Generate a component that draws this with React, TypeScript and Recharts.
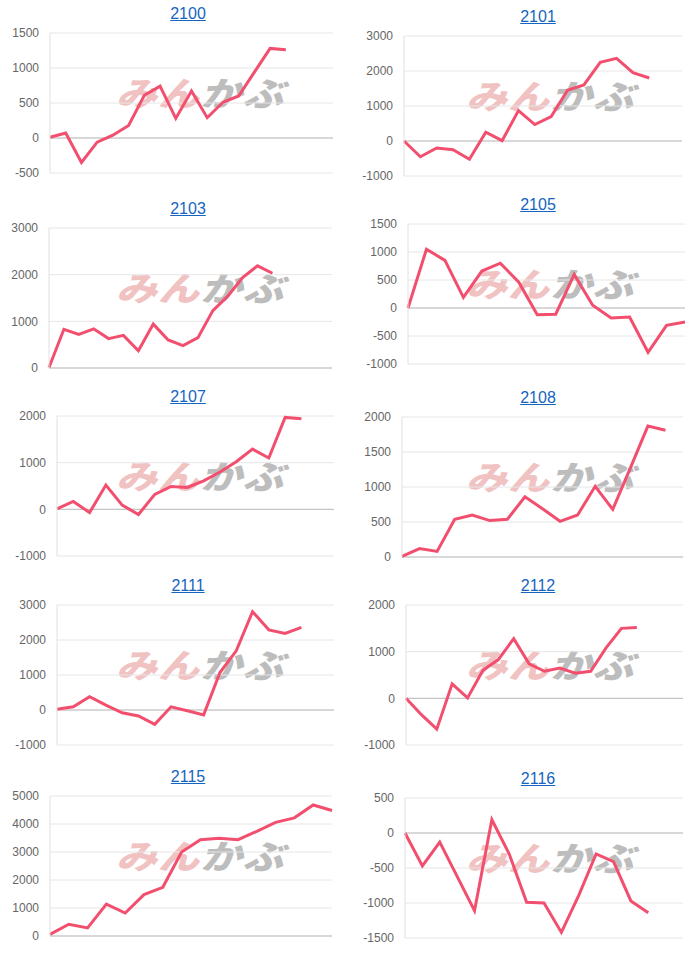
import { LineChart, Line, XAxis, YAxis, CartesianGrid, ReferenceLine } from "recharts";

// Codes shown in the grid, in reading order
const CODES = ["2100", "2101", "2103", "2105", "2107", "2108", "2111", "2112", "2115", "2116"];

// Number of x slots on each chart (series may stop before the end)
const SLOTS = [19, 18, 20, 16, 18, 17, 18, 19, 16, 17];

// Cumulative P/L series
const pnl2100 = [10, 70, -350, -60, 40, 180, 610, 740, 280, 670, 290, 510, 600, 940, 1280, 1260];
const pnl2101 = [0, -450, -200, -250, -520, 250, 10, 870, 470, 700, 1450, 1600, 2250, 2360, 1950, 1800];
const pnl2103 = [10, 830, 720, 840, 630, 700, 370, 940, 600, 480, 650, 1230, 1540, 1940, 2190, 2030];
const pnl2105 = [0, 1050, 850, 190, 660, 800, 460, -120, -110, 600, 50, -180, -160, -790, -310, -250];
const pnl2107 = [10, 170, -70, 520, 90, -110, 320, 490, 470, 610, 800, 1020, 1290, 1100, 1970, 1940];
const pnl2108 = [10, 120, 80, 540, 600, 520, 540, 860, 690, 510, 600, 1010, 680, 1270, 1870, 1810];
const pnl2111 = [20, 90, 380, 140, -80, -170, -410, 90, -20, -140, 1070, 1690, 2810, 2290, 2190, 2360];
const pnl2112 = [0, -350, -660, 310, 10, 600, 830, 1280, 740, 580, 650, 540, 580, 1080, 1500, 1520];
const pnl2115 = [60, 420, 290, 1140, 820, 1480, 1740, 3000, 3440, 3490, 3440, 3740, 4060, 4220, 4680, 4480];
const pnl2116 = [0, -470, -130, -620, -1110, 190, -300, -990, -1000, -1420, -890, -300, -410, -970, -1140];

const SERIES = [pnl2100, pnl2101, pnl2103, pnl2105, pnl2107, pnl2108, pnl2111, pnl2112, pnl2115, pnl2116];

// y-axis ticks per chart
const TICKS = [
  [-500, 0, 500, 1000, 1500],
  [-1000, 0, 1000, 2000, 3000],
  [0, 1000, 2000, 3000],
  [-1000, -500, 0, 500, 1000, 1500],
  [-1000, 0, 1000, 2000],
  [0, 500, 1000, 1500, 2000],
  [-1000, 0, 1000, 2000, 3000],
  [-1000, 0, 1000, 2000],
  [0, 1000, 2000, 3000, 4000, 5000],
  [-1500, -1000, -500, 0, 500],
];

// panel placement: column x, plot top, plot left/right inside the panel
const LAYOUT = [
  { x: 0, top: 33, left: 50, right: 333 },
  { x: 350, top: 36, left: 54, right: 332 },
  { x: 0, top: 228, left: 49, right: 332 },
  { x: 350, top: 224, left: 58, right: 335 },
  { x: 0, top: 416, left: 57, right: 334 },
  { x: 350, top: 417, left: 52, right: 333 },
  { x: 0, top: 605, left: 57, right: 334 },
  { x: 350, top: 605, left: 56, right: 333 },
  { x: 0, top: 796, left: 50, right: 332 },
  { x: 350, top: 798, left: 55, right: 333 },
];

const LINE_COLOR = "#f24f6f";
const FONT = "'Helvetica Neue', Arial, 'Liberation Sans', sans-serif";
const PLOT_H = 140;

function Panel({ idx }: { idx: number }) {
  const lay = LAYOUT[idx];
  const ticks = TICKS[idx];
  const values = SERIES[idx];
  const data = Array.from({ length: SLOTS[idx] }, (_, i) => ({
    i,
    v: i < values.length ? values[i] : null,
  }));

  return (
    <>
      <div
        style={{
          position: "absolute",
          left: lay.x + 128,
          top: lay.top - 29,
          width: 120,
          height: 20,
          lineHeight: "20px",
          textAlign: "center",
          fontFamily: FONT,
          fontSize: 16,
          color: "#1565c0",
          textDecoration: "underline",
        }}
      >
        {CODES[idx]}
      </div>
      {/* watermark sits under the chart */}
      <div
        style={{
          position: "absolute",
          left: lay.x + 116,
          top: lay.top + 42,
          fontFamily: "'Noto Sans CJK JP', sans-serif",
          fontSize: 38,
          lineHeight: "38px",
          fontWeight: 900,
          fontStyle: "italic",
          letterSpacing: 1,
          whiteSpace: "nowrap",
          transform: "scale(1.08, 0.88)",
          transformOrigin: "0 0",
        }}
      >
        <span style={{ color: "#f1c2c2" }}>みん</span>
        <span style={{ color: "#bdbdbd" }}>かぶ</span>
      </div>
      <div style={{ position: "absolute", left: lay.x, top: lay.top - 10 }}>
        <LineChart
          width={350}
          height={PLOT_H + 20}
          data={data}
          margin={{ top: 10, bottom: 10, left: 0, right: 350 - lay.right }}
        >
          <CartesianGrid horizontal vertical={false} stroke="#e6e6e6" />
          <XAxis dataKey="i" type="category" hide />
          <YAxis
            type="number"
            width={lay.left}
            domain={[ticks[0], ticks[ticks.length - 1]]}
            ticks={ticks}
            interval={0}
            tickLine={false}
            tickSize={0}
            tickMargin={11}
            axisLine={{ stroke: "#e0e0e0" }}
            tick={{ fill: "#666", fontSize: 12, fontFamily: FONT }}
          />
          <ReferenceLine y={0} stroke="#bdbdbd" />
          <Line
            type="linear"
            dataKey="v"
            stroke={LINE_COLOR}
            strokeWidth={3}
            dot={false}
            activeDot={false}
            isAnimationActive={false}
          />
        </LineChart>
      </div>
    </>
  );
}

export default function App() {
  return (
    <div
      style={{
        position: "absolute",
        left: 0,
        top: 0,
        width: 700,
        height: 955,
        background: "#fff",
        overflow: "hidden",
      }}
    >
      {CODES.map((_, idx) => (
        <Panel key={idx} idx={idx} />
      ))}
    </div>
  );
}
